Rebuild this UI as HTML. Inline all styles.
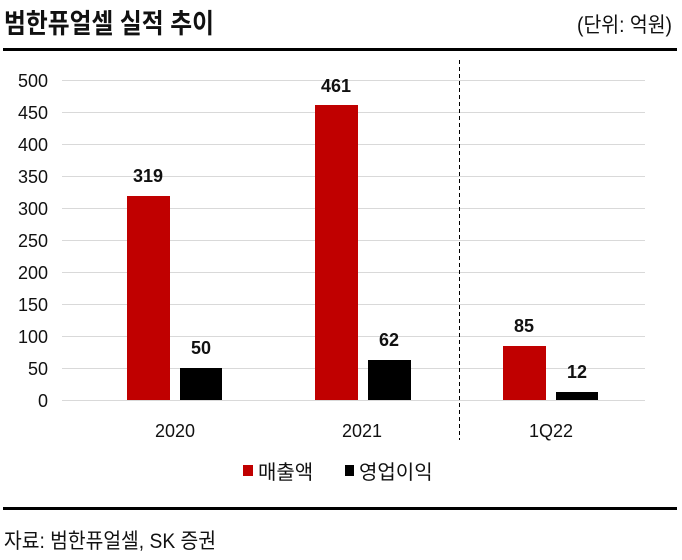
<!DOCTYPE html>
<html><head><meta charset="utf-8"><style>
body{margin:0;width:682px;height:555px;background:#fff;overflow:hidden}
svg text{font-family:"Liberation Sans","Noto Sans CJK KR",sans-serif}
</style></head><body>
<svg width="682" height="555" xmlns="http://www.w3.org/2000/svg">
<text x="4" y="33" font-size="27" font-weight="bold" fill="#111" textLength="210" lengthAdjust="spacingAndGlyphs">범한퓨얼셀 실적 추이</text>
<text x="672" y="32" font-size="21" text-anchor="end" fill="#111" textLength="95" lengthAdjust="spacingAndGlyphs">(단위: 억원)</text>
<rect x="3" y="48" width="674" height="3" fill="#000"/>
<g stroke="#d9d9d9" stroke-width="1">
<line x1="62" x2="645" y1="80.5" y2="80.5"/><line x1="62" x2="645" y1="112.5" y2="112.5"/>
<line x1="62" x2="645" y1="144.5" y2="144.5"/><line x1="62" x2="645" y1="176.5" y2="176.5"/>
<line x1="62" x2="645" y1="208.5" y2="208.5"/><line x1="62" x2="645" y1="240.5" y2="240.5"/>
<line x1="62" x2="645" y1="272.5" y2="272.5"/><line x1="62" x2="645" y1="304.5" y2="304.5"/>
<line x1="62" x2="645" y1="336.5" y2="336.5"/><line x1="62" x2="645" y1="368.5" y2="368.5"/>
<line x1="62" x2="645" y1="400.5" y2="400.5"/>
</g>
<g font-size="18" text-anchor="end" fill="#111">
<text x="48" y="87">500</text><text x="48" y="119">450</text><text x="48" y="151">400</text>
<text x="48" y="183">350</text><text x="48" y="215">300</text><text x="48" y="247">250</text>
<text x="48" y="279">200</text><text x="48" y="311">150</text><text x="48" y="343">100</text>
<text x="48" y="375">50</text><text x="48" y="407">0</text>
</g>
<line x1="459.5" x2="459.5" y1="60" y2="440" stroke="#000" stroke-dasharray="4,3"/>
<g fill="#c00000">
<rect x="127" y="196" width="43" height="204"/>
<rect x="315" y="105" width="43" height="295"/>
<rect x="503" y="346" width="43" height="54"/>
</g>
<g fill="#000">
<rect x="180" y="368" width="42" height="32"/>
<rect x="368" y="360" width="43" height="40"/>
<rect x="556" y="392" width="42" height="8"/>
</g>
<g font-size="18" font-weight="bold" text-anchor="middle" fill="#111">
<text x="148" y="182">319</text><text x="201" y="354">50</text>
<text x="336" y="92">461</text><text x="389" y="346">62</text>
<text x="524" y="332">85</text><text x="577" y="378">12</text>
</g>
<g font-size="18" text-anchor="middle" fill="#111">
<text x="175" y="437">2020</text><text x="362" y="437">2021</text><text x="551" y="437">1Q22</text>
</g>
<rect x="243" y="465" width="10" height="11" fill="#c00000"/>
<text x="258" y="479" font-size="20" fill="#111">매출액</text>
<rect x="345" y="465" width="9" height="11" fill="#000"/>
<text x="359" y="479" font-size="20" fill="#111">영업이익</text>
<rect x="3" y="507" width="674" height="3" fill="#000"/>
<text x="4" y="548" font-size="21" fill="#111" textLength="212" lengthAdjust="spacingAndGlyphs">자료: 범한퓨얼셀, SK 증권</text>
</svg>
</body></html>
